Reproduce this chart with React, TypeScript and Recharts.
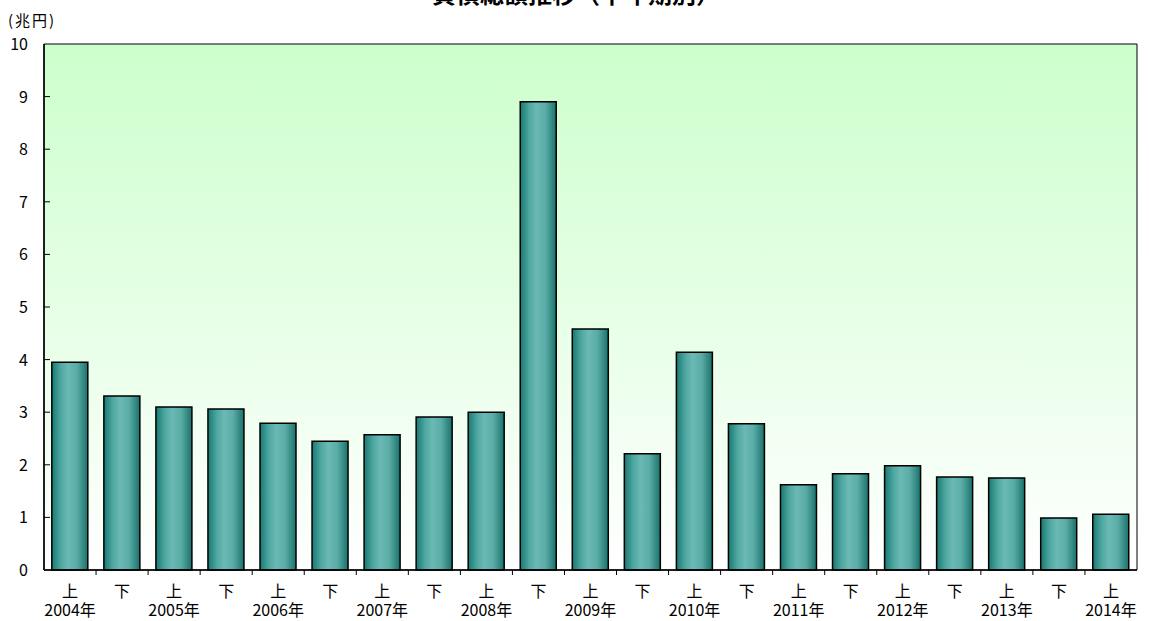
import React from "react";
import { BarChart, Bar, XAxis, YAxis, CartesianGrid, ReferenceArea } from "recharts";

const halves = ["上", "下", "上", "下", "上", "下", "上", "下", "上", "下", "上", "下", "上", "下", "上", "下", "上", "下", "上", "下", "上"];
const years = ["2004年", "", "2005年", "", "2006年", "", "2007年", "", "2008年", "", "2009年", "", "2010年", "", "2011年", "", "2012年", "", "2013年", "", "2014年"];
const debt = [3.95, 3.31, 3.1, 3.06, 2.79, 2.45, 2.57, 2.91, 3.0, 8.9, 4.58, 2.21, 4.14, 2.78, 1.62, 1.83, 1.98, 1.77, 1.75, 0.99, 1.06];
const yTicks = [0, 1, 2, 3, 4, 5, 6, 7, 8, 9, 10];

const data = halves.map((h, i) => ({ key: String(i), half: h, year: years[i], value: debt[i] }));

const W = 1149;
const H = 621;
const LEFT = 44;
const RIGHT = 1137;
const TOP = 44;
const BOTTOM = 570;
const BAND = (RIGHT - LEFT) / data.length;
const FONT = "'Noto Sans CJK JP', 'Noto Sans', sans-serif";

const XTick = (props: any) => {
  const { x, payload } = props;
  const d = data[payload.index] || data[Number(payload.value)];
  return (
    <g>
      {payload.index > 0 && (
        <line x1={x - BAND / 2} x2={x - BAND / 2} y1={BOTTOM} y2={BOTTOM + 5} stroke="#000" strokeWidth={1} />
      )}
      <text x={x} y={597} textAnchor="middle" fontSize={16} fontFamily={FONT} fill="#000">
        <tspan x={x} y={597}>{d ? d.half : ""}</tspan>
        {d && d.year ? (
          <tspan x={x} y={616}>{d.year}</tspan>
        ) : null}
      </text>
    </g>
  );
};

const YTick = (props: any) => {
  const { y, payload } = props;
  return (
    <g>
      {payload.value > 0 && payload.value < 10 && (
        <line x1={LEFT} x2={LEFT + 6} y1={y} y2={y} stroke="#000" strokeWidth={1} />
      )}
      <text x={28} y={y + 6} textAnchor="end" fontSize={16} fontFamily={FONT} fill="#000">
        {payload.value}
      </text>
    </g>
  );
};

export default function App() {
  return (
    <div style={{ position: "absolute", left: 0, top: 0, width: W, height: H, background: "#fff", overflow: "hidden" }}>
      <BarChart
        width={W}
        height={H}
        data={data}
        margin={{ top: TOP, right: W - RIGHT, left: 0, bottom: 0 }}
        barCategoryGap="15%"
      >
        <defs>
          <linearGradient id="bgGrad" x1="0" y1="0" x2="0" y2="1">
            <stop offset="0%" stopColor="#ccffcc" />
            <stop offset="100%" stopColor="#ffffff" />
          </linearGradient>
          <linearGradient id="barGrad" x1="0" y1="0" x2="1" y2="0">
            <stop offset="0%" stopColor="#177a72" />
            <stop offset="25%" stopColor="#4fa7a1" />
            <stop offset="45%" stopColor="#6bb9b4" />
            <stop offset="70%" stopColor="#5aaca6" />
            <stop offset="100%" stopColor="#1a726b" />
          </linearGradient>
        </defs>
        <CartesianGrid horizontal={false} vertical={false} fill="url(#bgGrad)" />
        <XAxis
          dataKey="key"
          height={H - BOTTOM}
          interval={0}
          tickLine={false}
          axisLine={{ stroke: "#000", strokeWidth: 1.5 }}
          tick={<XTick />}
        />
        <YAxis
          type="number"
          domain={[0, 10]}
          ticks={yTicks}
          width={LEFT}
          interval={0}
          tickLine={false}
          axisLine={{ stroke: "#000", strokeWidth: 1.5 }}
          tick={<YTick />}
        />
        <ReferenceArea y1={0} y2={10} fill="none" stroke="#000" strokeWidth={1} fillOpacity={0} ifOverflow="visible" />
        <Bar dataKey="value" fill="url(#barGrad)" stroke="#000" strokeWidth={1.5} isAnimationActive={false} />
      </BarChart>
      <div
        style={{
          position: "absolute",
          left: 8,
          top: 11,
          fontSize: 15,
          letterSpacing: 2,
          fontFamily: FONT,
          color: "#000",
          lineHeight: "18px",
          whiteSpace: "nowrap",
        }}
      >
        (兆円)
      </div>
      <svg style={{ position: "absolute", left: 0, top: 0 }} width={W} height={30}>
        <text x={576} y={3} textAnchor="middle" fontSize={24} fontWeight="bold" fontFamily={FONT} fill="#000">
          負債総額推移（半年期別）
        </text>
      </svg>
    </div>
  );
}
